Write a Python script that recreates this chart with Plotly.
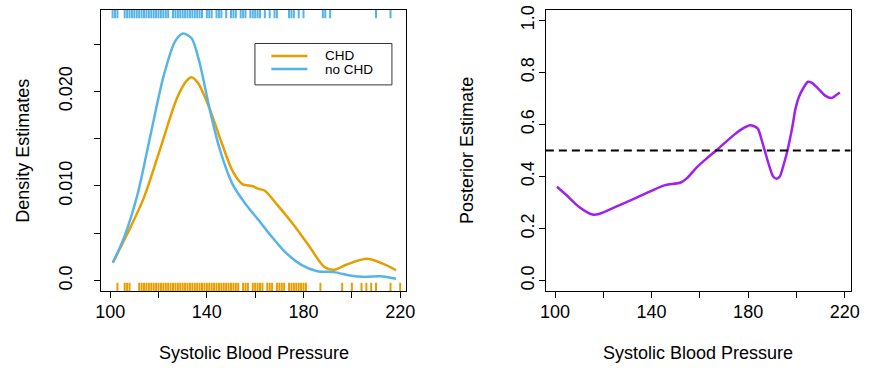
import plotly.graph_objects as go

# ---------------- data ----------------
sbp_chd_grid = [101.1, 107.2, 114.0, 120.8, 127.5, 131.6, 133.6, 136.3, 141.1, 146.5,
                150.6, 154.7, 158.6, 161.4, 164.0, 169.5, 176.2, 183.0, 188.4, 192.5,
                197.9, 206.1, 212.8, 218.3]
dens_chd = [0.0019, 0.0050, 0.0088, 0.0140, 0.0192, 0.0211, 0.0215, 0.0209, 0.0182, 0.0143,
            0.0116, 0.0102, 0.0100, 0.0097, 0.0095, 0.0079, 0.0058, 0.0034, 0.0015, 0.00115,
            0.0017, 0.0023, 0.0018, 0.0011]

sbp_nochd_grid = [101.1, 105.8, 111.3, 116.7, 122.1, 126.9, 130.2, 133.7, 137.0, 141.1,
                  145.2, 150.6, 156.0, 161.4, 165.4, 172.1, 178.9, 185.7, 192.5, 199.3,
                  204.7, 212.8, 218.3]
dens_nochd = [0.0019, 0.0046, 0.0091, 0.0154, 0.0216, 0.0253, 0.0261, 0.0256, 0.0230, 0.0182,
              0.0140, 0.0102, 0.0081, 0.0064, 0.0051, 0.0031, 0.0017, 0.0010, 0.0009, 0.00055,
              0.0004, 0.00045, 0.0002]

post_x = [100.8, 104.6, 110.0, 115.5, 118.2, 126.3, 133.1, 139.9, 145.3, 152.1,
          154.8, 158.9, 163.0, 167.0, 174.0, 177.2, 180.7, 182.0, 184.0, 185.4,
          186.8, 188.8, 190.4, 191.8, 193.1, 194.9, 196.3, 198.3, 199.6, 201.0,
          203.0, 204.8, 206.4, 209.2, 211.9, 214.6, 216.6, 218.0]
post_y = [0.361, 0.330, 0.283, 0.254, 0.256, 0.288, 0.316, 0.345, 0.366, 0.377,
          0.395, 0.437, 0.471, 0.502, 0.559, 0.581, 0.597, 0.595, 0.584, 0.547,
          0.502, 0.439, 0.400, 0.391, 0.400, 0.452, 0.500, 0.590, 0.660, 0.705,
          0.742, 0.764, 0.760, 0.736, 0.711, 0.702, 0.714, 0.723]

rug_chd = [103, 106, 107, 108, 112, 113, 114, 115, 116, 117, 118, 119, 120, 121, 122, 123,
           124, 125, 126, 127, 128, 129, 130, 131, 132, 133, 134, 135, 136, 137, 138, 139,
           140, 141, 142, 143, 144, 145, 146, 147, 148, 149, 150, 151, 152, 153, 155, 156,
           157, 159, 160, 161, 162, 163, 165, 166, 167, 169, 170, 171, 172, 174, 175, 176,
           177, 178, 179, 180, 181, 187, 196, 200, 204, 206, 208, 210, 216, 220]
rug_nochd = [101, 102, 103, 106, 107, 108, 109, 110, 111, 112, 113, 114, 115, 116, 117, 118,
             119, 120, 121, 122, 123, 124, 126, 127, 128, 129, 130, 131, 132, 133, 134, 135,
             136, 137, 138, 140, 141, 142, 144, 145, 146, 148, 150, 151, 152, 154, 155, 156,
             158, 159, 160, 161, 162, 164, 166, 168, 169, 174, 175, 176, 178, 180, 188, 189,
             191, 210, 216]

threshold = 0.5
series_names = ["CHD", "no CHD"]
x_tickvals = [100, 120, 140, 160, 180, 200, 220]
x_ticktext = ["100", "", "140", "", "180", "", "220"]
y1_tickvals = [0.0, 0.005, 0.010, 0.015, 0.020, 0.025]
y1_ticktext = ["0.0", "", "0.010", "", "0.020", ""]
y2_tickvals = [0.0, 0.2, 0.4, 0.6, 0.8, 1.0]
y2_ticktext = ["0.0", "0.2", "0.4", "0.6", "0.8", "1.0"]

ORANGE = "#E69F00"
BLUE = "#56B4E9"
PURPLE = "#A020F0"
W, H = 871, 368
FONT = "Liberation Sans, Arial, Helvetica, sans-serif"

fig = go.Figure()
fig.add_trace(go.Scatter(x=sbp_chd_grid, y=dens_chd, mode="lines", name=series_names[0],
                         line=dict(color=ORANGE, width=2.5, shape="spline", smoothing=0.8),
                         xaxis="x", yaxis="y", showlegend=False))
fig.add_trace(go.Scatter(x=sbp_nochd_grid, y=dens_nochd, mode="lines", name=series_names[1],
                         line=dict(color=BLUE, width=2.5, shape="spline", smoothing=0.8),
                         xaxis="x", yaxis="y", showlegend=False))
fig.add_trace(go.Scatter(x=post_x, y=post_y, mode="lines", name="posterior",
                         line=dict(color=PURPLE, width=2.5, shape="spline", smoothing=0.8),
                         xaxis="x2", yaxis="y2", showlegend=False))

shapes = []
for v in rug_chd:
    shapes.append(dict(type="line", xref="x", yref="y domain", x0=v, x1=v, y0=0, y1=0.03,
                       line=dict(color=ORANGE, width=2)))
for v in rug_nochd:
    shapes.append(dict(type="line", xref="x", yref="y domain", x0=v, x1=v, y0=0.97, y1=1,
                       line=dict(color=BLUE, width=2)))
shapes.append(dict(type="line", xref="x2 domain", yref="y2", x0=0, x1=1, y0=threshold, y1=threshold,
                   line=dict(color="black", width=1.8, dash="8px,5px")))

# manual legend (R style)
def px(x):
    return x / W

def py(y):
    return 1 - y / H

shapes.append(dict(type="rect", xref="paper", yref="paper", x0=px(253.3), x1=px(392.7),
                   y0=py(81), y1=py(39), line=dict(color="#333333", width=1)))
leg_colors = [ORANGE, BLUE]
leg_y = [51.7, 65.0]
annotations = []
for name, c, yy in zip(series_names, leg_colors, leg_y):
    shapes.append(dict(type="line", xref="paper", yref="paper", x0=px(270), x1=px(306.7),
                       y0=py(yy), y1=py(yy), line=dict(color=c, width=2.5)))
    annotations.append(dict(text=name, xref="paper", yref="paper", x=px(322.7), y=py(yy),
                            xanchor="left", yanchor="middle", showarrow=False,
                            font=dict(size=13.5, color="black", family=FONT)))

# axis titles
annotations += [
    dict(text="Systolic Blood Pressure", xref="paper", yref="paper", x=px(252), y=py(353),
         xanchor="center", yanchor="middle", showarrow=False, font=dict(size=18, family=FONT)),
    dict(text="Systolic Blood Pressure", xref="paper", yref="paper", x=px(704), y=py(353),
         xanchor="center", yanchor="middle", showarrow=False, font=dict(size=18, family=FONT)),
    dict(text="Density Estimates", xref="paper", yref="paper", x=px(17.5), y=py(147.5),
         xanchor="center", yanchor="middle", textangle=-90, showarrow=False,
         font=dict(size=18, family=FONT)),
    dict(text="Posterior Estimate", xref="paper", yref="paper", x=px(469.5), y=py(147.5),
         xanchor="center", yanchor="middle", textangle=-90, showarrow=False,
         font=dict(size=18, family=FONT)),
]

axis_common = dict(showline=True, mirror=True, linecolor="black", linewidth=1,
                   ticks="outside", ticklen=6, tickwidth=1, tickcolor="black",
                   showgrid=False, zeroline=False, tickfont=dict(size=18, family=FONT, color="black"))

ydom = [1 - 290 / H, 1 - 5 / H]
fig.update_layout(
    width=W, height=H, margin=dict(l=0, r=0, t=0, b=0),
    paper_bgcolor="white", plot_bgcolor="white",
    font=dict(family=FONT, color="black"),
    xaxis=dict(domain=[97 / W, 407 / W], range=[96.34, 222.4], tickvals=x_tickvals,
               ticktext=x_ticktext, anchor="y", ticklabelstandoff=-2, **axis_common),
    yaxis=dict(domain=ydom, range=[-0.0011, 0.0286], tickvals=y1_tickvals, ticktext=y1_ticktext,
               anchor="x", tickangle=-90, ticklabelstandoff=15, **axis_common),
    xaxis2=dict(domain=[549.3 / W, 859.3 / W], range=[96.2, 222.4], tickvals=x_tickvals,
                ticktext=x_ticktext, anchor="y2", ticklabelstandoff=-2, **axis_common),
    yaxis2=dict(domain=ydom, range=[-0.04, 1.04], tickvals=y2_tickvals, ticktext=y2_ticktext,
                anchor="x2", tickangle=-90, ticklabelstandoff=-2, **axis_common),
    shapes=shapes, annotations=annotations,
)

fig.write_html("out.html", config={"displayModeBar": False},
               post_script="document.body.style.margin='0px';")
